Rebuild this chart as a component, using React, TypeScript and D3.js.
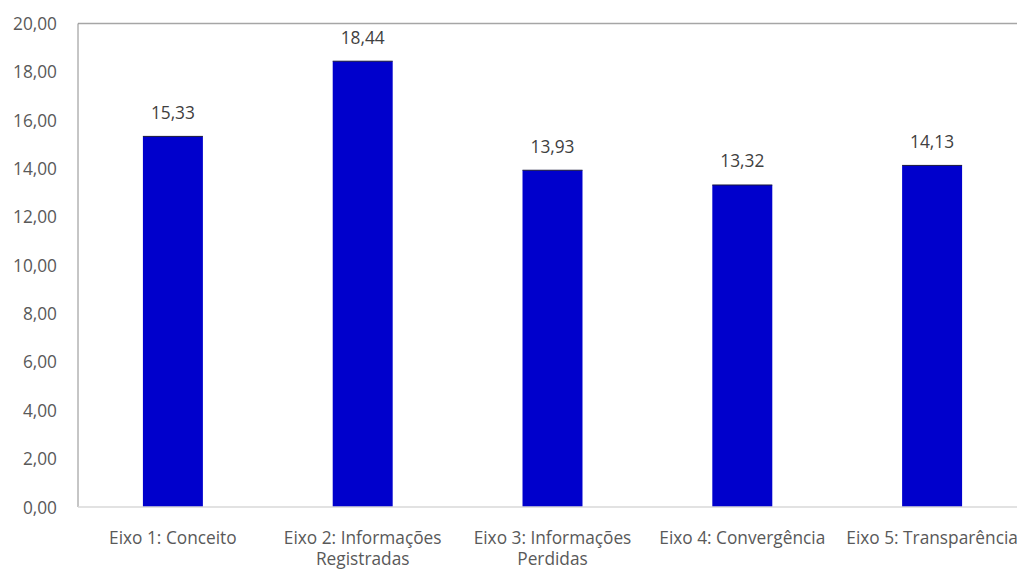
import React from "react";
import * as d3 from "d3";

const categories: string[][] = [
  ["Eixo 1: Conceito"],
  ["Eixo 2: Informações", "Registradas"],
  ["Eixo 3: Informações", "Perdidas"],
  ["Eixo 4: Convergência"],
  ["Eixo 5: Transparência"],
];
const values: number[] = [15.33, 18.44, 13.93, 13.32, 14.13];
const yTicks: number[] = [0, 2, 4, 6, 8, 10, 12, 14, 16, 18, 20];

const W = 1017;
const H = 571;
const left = 78;
const right = 1027;
const top = 23.5;
const bottom = 507;
const FONT = "'Open Sans', 'Noto Sans', sans-serif";
const FS = 17.3;
const fmt = (v: number) => v.toFixed(2).replace(".", ",");

export default function App() {
  const x = d3
    .scaleBand<number>()
    .domain(values.map((_, i) => i))
    .range([left, right])
    .paddingInner(0.684)
    .paddingOuter(0.342);
  const y = d3.scaleLinear().domain([0, 20]).range([bottom, top]);

  return (
    <svg
      width={W}
      height={H}
      style={{ position: "absolute", left: 0, top: 0, background: "#fff" }}
      fontFamily={FONT}
    >
      <line x1={left} x2={W} y1={top} y2={top} stroke="#a6a6a6" strokeWidth={1.5} />
      <line x1={left} x2={left} y1={top} y2={bottom} stroke="#8c8c8c" strokeWidth={1} />
      {values.map((v, i) => (
        <g key={i}>
          <rect
            x={x(i)!}
            y={y(v)}
            width={x.bandwidth()}
            height={bottom - y(v)}
            fill="#0000cc"
          />
          <line x1={x(i)!} x2={x(i)! + x.bandwidth()} y1={y(v)} y2={y(v)} stroke="#1a1a3a" strokeWidth={1} />
          <text
            x={x(i)! + x.bandwidth() / 2}
            y={y(v) - 17.5}
            textAnchor="middle"
            fontSize={FS}
            fill="#404040"
          >
            {fmt(v)}
          </text>
          {categories[i].map((line, j) => (
            <text
              key={j}
              x={x(i)! + x.bandwidth() / 2}
              y={543.5 + j * 21}
              textAnchor="middle"
              fontSize={FS}
              fill="#595959"
            >
              {line}
            </text>
          ))}
        </g>
      ))}
      <line x1={left} x2={W} y1={bottom} y2={bottom} stroke="#d9d9d9" strokeWidth={1.5} />
      {yTicks.map((t) => (
        <text key={t} x={57} y={y(t) + 6.5} textAnchor="end" fontSize={FS} fill="#595959">
          {fmt(t)}
        </text>
      ))}
    </svg>
  );
}
